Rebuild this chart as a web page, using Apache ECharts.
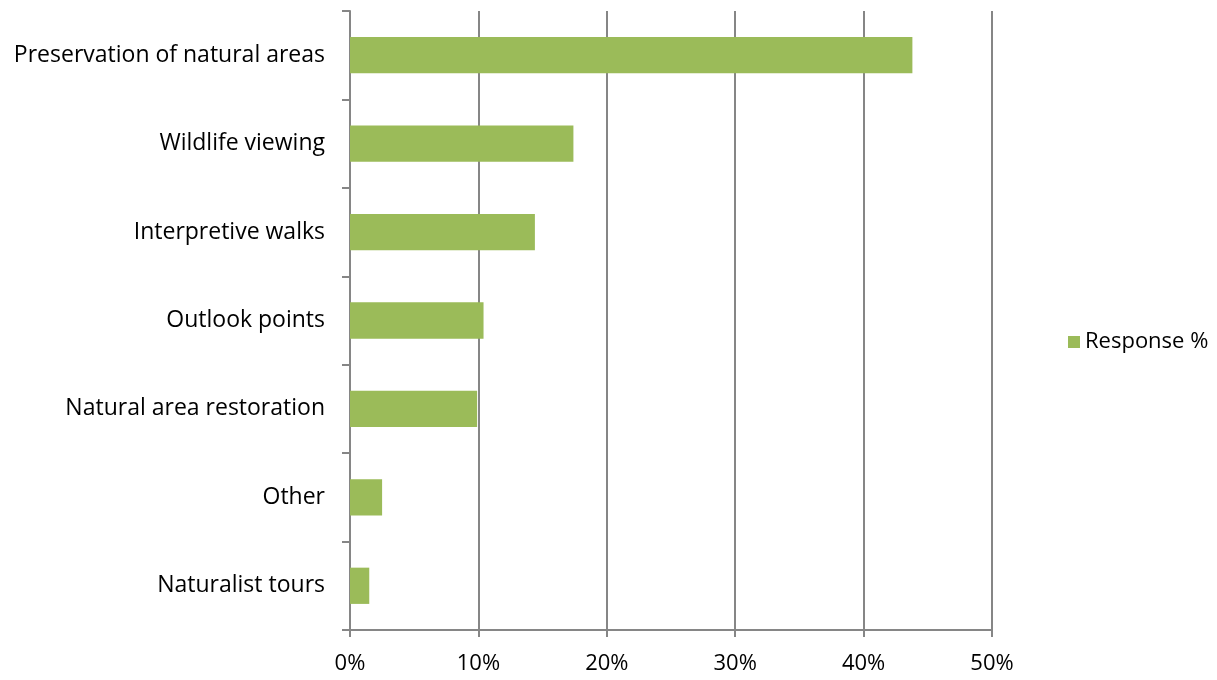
<!DOCTYPE html>
<html><head><meta charset="utf-8">
<script src="https://cdn.jsdelivr.net/npm/echarts@6/dist/echarts.min.js"></script>
<style>html,body{margin:0;padding:0;background:#fff}#c{width:1217px;height:680px}</style>
</head><body><div id="c"></div>
<script>
const categories = ["Naturalist tours","Other","Natural area restoration","Outlook points","Interpretive walks","Wildlife viewing","Preservation of natural areas"];
const responsePct = [1.5, 2.5, 9.9, 10.4, 14.4, 17.4, 43.8];
const seriesName = "Response %";
const FONT = "Open Sans";
const chart = echarts.init(document.getElementById('c'), null, {renderer:'canvas'});
chart.setOption({
  animation:false,
  textStyle:{fontFamily:FONT},
  grid:{left:350, right:225, top:11, bottom:50, containLabel:false},
  legend:{
    data:[seriesName], orient:'vertical', left:1063, top:326,
    icon:'rect', itemWidth:12, itemHeight:12, itemGap:6,
    textStyle:{fontFamily:FONT, fontSize:22, color:'#000'}
  },
  xAxis:{
    type:'value', min:0, max:50, interval:10,
    axisLine:{show:true, lineStyle:{color:'#868686', width:2}},
    axisTick:{show:true, length:7, lineStyle:{color:'#868686', width:2}},
    splitLine:{show:true, lineStyle:{color:'#868686', width:2}},
    axisLabel:{formatter:'{value}%', fontFamily:FONT, fontSize:22, color:'#000', margin:23}
  },
  yAxis:{
    type:'category', data:categories,
    axisLine:{show:true, lineStyle:{color:'#868686', width:2}},
    axisTick:{show:true, length:8, lineStyle:{color:'#868686', width:2}},
    axisLabel:{fontFamily:FONT, fontSize:23, color:'#000', margin:25, padding:[3,0,0,0]}
  },
  series:[{
    name:seriesName, type:'bar', data:responsePct, barCategoryGap:'59%',
    itemStyle:{color:'#9BBB59'}
  }]
});
</script></body></html>
